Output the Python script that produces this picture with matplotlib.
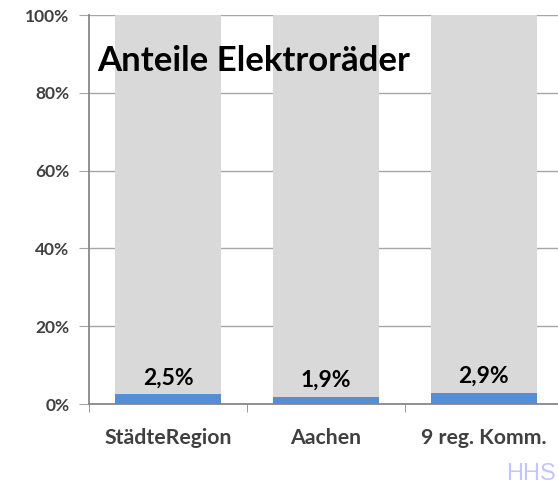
import numpy as np
import matplotlib.pyplot as plt
from matplotlib.ticker import FuncFormatter, FixedLocator

categories = ["StädteRegion", "Aachen", "9 reg. Komm."]
elektro = [2.5, 1.9, 2.9]
rest = [100 - v for v in elektro]
labels = ["2,5%", "1,9%", "2,9%"]

plt.rcParams['font.family'] = ['Lato', 'DejaVu Sans']

W, H = 558, 486
fig = plt.figure(figsize=(W / 100, H / 100), dpi=100)
ax = fig.add_axes([89 / W, 1 - 404 / H, (W - 89) / W, (404 - 15) / H])

x = np.arange(len(categories))
ax.bar(x, elektro, width=0.67, color="#558ED5", zorder=3)
ax.bar(x, rest, bottom=elektro, width=0.67, color="#D9D9D9", zorder=3)

for xi, v, lab in zip(x, elektro, labels):
    ax.text(xi, v + 4.2, lab, ha="center", va="center", fontsize=16.5,
            fontweight="bold", color="black", zorder=4)

ax.set_xlim(-0.5, 2.47)
ax.set_ylim(0, 100)
ax.set_yticks(np.arange(0, 101, 20))
ax.yaxis.set_major_formatter(FuncFormatter(lambda v, p: "{:d}%".format(int(v))))
ax.set_xticks(x)
ax.set_xticklabels(categories)
ax.xaxis.set_minor_locator(FixedLocator([-0.5, 0.5, 1.5, 2.5]))

ax.grid(axis="y", color="#A6A6A6", linewidth=1, zorder=0)
ax.tick_params(axis="y", length=7, color="#A6A6A6", labelsize=12.5,
               labelcolor="#404040", pad=7)
ax.tick_params(axis="x", which="major", length=0, labelsize=15.3,
               labelcolor="#404040", pad=17)
ax.tick_params(axis="x", which="minor", length=6, color="#888888")
for lab in ax.get_yticklabels() + ax.get_xticklabels():
    lab.set_fontweight("bold")

for s in ["top", "right"]:
    ax.spines[s].set_visible(False)
ax.spines["left"].set_color("#888888")
ax.spines["bottom"].set_color("#888888")
ax.spines["left"].set_linewidth(1.3)
ax.spines["bottom"].set_linewidth(1.3)

fig.text(97 / W, 1 - 61 / H, "Anteile Elektroräder", fontsize=25,
         fontweight="bold", color="black", va="center", ha="left", zorder=5)
fig.text(556 / W, 1 - 474 / H, "HHS", family="Liberation Sans",
         fontsize=17, color="#C4C4FF", ha="right", va="center")

plt.savefig("out.png", dpi=100)
